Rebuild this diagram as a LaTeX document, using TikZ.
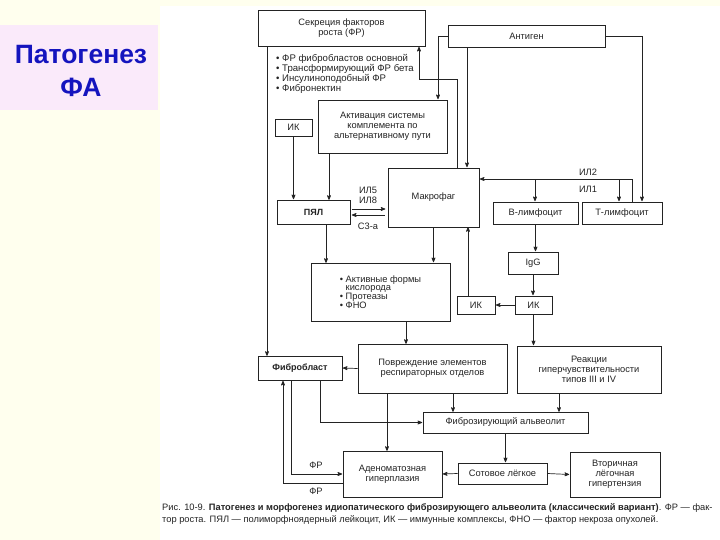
\documentclass[tikz,border=0pt]{standalone}
\usepackage{fontspec}
\setmainfont{Liberation Sans}
\setsansfont{Liberation Sans}
\usepackage{tikz}
\usetikzlibrary{arrows,positioning,shapes}
\usetikzlibrary{calc}
\definecolor{slidecream}{RGB}{255,255,238}
\definecolor{slidepink}{RGB}{250,234,250}
\definecolor{titleblue}{RGB}{20,20,190}
\definecolor{ink}{RGB}{35,35,35}

\begin{document}
\begin{tikzpicture}[x=1pt,y=-1pt,font=\sffamily,
  block/.style={draw=ink,line width=.65pt,inner sep=1pt,align=center,text=ink},
  boldblock/.style={block,font=\sffamily\bfseries\fontsize{9}{10}\selectfont},
  txt/.style={inner sep=0pt,align=center,text=ink},
  to/.style={->,>=stealth',shorten >=.5pt,draw=ink,line width=.7pt},
  every node/.style={font=\sffamily\fontsize{9.3}{10}\selectfont}]

    % slide background
    \useasboundingbox (0,0) rectangle (720,540);
    \fill[slidecream] (0,0) rectangle (720,540);
    \fill[white] (160,6) rectangle (720,540);
    \fill[slidepink] (0,25) rectangle (158,110);
    \node[txt,text=titleblue,font=\sffamily\bfseries\fontsize{26.5}{33}\selectfont] (title) at (81,71) {Патогенез\\ФА};

    % boxes
    \node[block,minimum width=167pt,minimum height=36pt] (secr) at (341.5,28) {Секреция факторов\\роста (ФР)};
    \node[block,minimum width=157pt,minimum height=22pt] (antigen) at (526.5,36) {Антиген};
    \node[txt,anchor=north west,align=left,font=\sffamily\fontsize{9.6}{9}\selectfont] (secrlist) at (276,54)
        {• ФР фибробластов основной\\• Трансформирующий ФР бета\\• Инсулиноподобный ФР\\• Фибронектин};
    \node[block,minimum width=129pt,minimum height=53pt] (activ) at (382.5,126.5) {Активация системы\\комплемента по\\альтернативному пути};
    \node[block,minimum width=37pt,minimum height=17pt] (ikA) at (293.5,127.5) {ИК};
    \node[boldblock,minimum width=73pt,minimum height=24pt] (pyal) at (313.5,212) {ПЯЛ};
    \node[block,minimum width=91pt,minimum height=59pt] (macro) at (433.5,197.5) {Макрофаг};
    \node[block,minimum width=85pt,minimum height=22pt] (blym) at (535.5,213) {В-лимфоцит};
    \node[block,minimum width=80pt,minimum height=22pt] (tlym) at (622,213) {Т-лимфоцит};
    \node[block,minimum width=50pt,minimum height=22pt] (igg) at (533,263) {IgG};
    \node[block,minimum width=37pt,minimum height=18pt] (ikR) at (533.5,305) {ИК};
    \node[block,minimum width=38pt,minimum height=18pt] (ikL) at (476,305) {ИК};
    \node[block,minimum width=139pt,minimum height=58pt,align=left,font=\sffamily\fontsize{9.3}{8.8}\selectfont] (agents) at (380.5,292)
        {• Активные формы\\\phantom{• }кислорода\\• Протеазы\\• ФНО};
    \node[block,minimum width=149pt,minimum height=49pt] (damage) at (432.5,368.5) {Повреждение элементов\\респираторных отделов};
    \node[block,minimum width=144pt,minimum height=47pt] (hyper) at (589,369.5) {Реакции\\гиперчувствительности\\типов III и IV};
    \node[boldblock,minimum width=84pt,minimum height=24pt] (fibro) at (300,368) {Фибробласт};
    \node[block,minimum width=165pt,minimum height=21pt] (alveo) at (505.5,422.5) {Фиброзирующий альвеолит};
    \node[block,minimum width=99pt,minimum height=46pt] (adeno) at (392.5,474) {Аденоматозная\\гиперплазия};
    \node[block,minimum width=89pt,minimum height=21pt] (honey) at (502.5,473.5) {Сотовое лёгкое};
    \node[block,minimum width=90pt,minimum height=45pt] (hypert) at (615,474.5) {Вторичная\\лёгочная\\гипертензия};

    % labels on connectors
    \node[txt] (il58) at (368,195) {ИЛ5\\ИЛ8};
    \node[txt] (c3a) at (368,226) {С3-а};
    \node[txt] (il2) at (588,172) {ИЛ2};
    \node[txt] (il1) at (588,189) {ИЛ1};
    \node[txt] (frA) at (316,465) {ФР};
    \node[txt] (frB) at (316,491) {ФР};
    \coordinate (il1b) at (535,180);
    \coordinate (il1t) at (619,180);

    % connectors
    \draw[to] ([xshift=23.5pt]macro.north) -- ++(0,-88) -| ([xshift=77.5pt]secr.south);
    \draw[to] (antigen.west) -| ([xshift=55.5pt]activ.north);
    \draw[to] ([xshift=-59.5pt]antigen.south) -- ([xshift=33.5pt]macro.north);
    \draw[to] (antigen.east) -| ([xshift=20pt]tlym.north);
    \draw[to] ([xshift=-74.5pt]secr.south) -- ++(0,310);
    \draw[to] (ikA.south) -- (ikA.south |- pyal.north);
    \draw[to] ([xshift=-53.5pt]activ.south) -- ++(0,47);
    \draw[to] ([yshift=3pt,xshift=1.5pt]pyal.east) -- ++(34,0);
    \draw[to,<-] ([yshift=-3pt,xshift=1.5pt]pyal.east) -- ++(34,0);
    \draw[to] ([xshift=10pt]tlym.north) |- ([yshift=18.5pt]macro.east);
    \draw[to] (il1b) -- (il1b |- blym.north);
    \draw[to] (il1t) -- (il1t |- tlym.north);
    \draw[to] (blym.south) -- (blym.south |- igg.north);
    \draw[to] (igg.south) -- (igg.south |- ikR.north);
    \draw[to] (ikR.west) -- (ikL.east);
    \draw[to] ([xshift=-8pt]ikL.north) -- ++(0,-69);
    \draw[to] (ikR.south) -- (ikR.south |- hyper.north);
    \draw[to] (macro.south) -- (macro.south |- agents.north);
    \draw[to] ([xshift=12.5pt]pyal.south) -- ++(0,39);
    \draw[to] ([xshift=25.5pt]agents.south) -- ++(0,23);
    \draw[to] (damage.west) -- (fibro.east);
    \draw[to] ([xshift=20.5pt]damage.south) -- ++(0,19);
    \draw[to] ([xshift=-30pt]hyper.south) -- ++(0,19);
    \draw[to] ([xshift=20pt]fibro.south) |- (alveo.west);
    \draw[to] ([xshift=-45.5pt]damage.south) -- ++(0,58);
    \draw[to] (alveo.south) -- (alveo.south |- honey.north);
    \draw[to] (honey.west) -- (adeno.east);
    \draw[to] (honey.east) -- (hypert.west);
    \draw[to] ([xshift=-9pt]fibro.south) |- (adeno.west);
    \draw[to] ([yshift=-9pt]adeno.west) -| ([xshift=-17pt]fibro.south);

    % caption
    \node[txt,anchor=north west,align=left,font=\sffamily\fontsize{9.3}{12}\selectfont] (caption) at (162,503)
        {Рис. 10-9. \textbf{Патогенез и морфогенез идиопатического фиброзирующего альвеолита (классический вариант)}. ФР — фак-\\
         тор роста. ПЯЛ — полиморфноядерный лейкоцит, ИК — иммунные комплексы, ФНО — фактор некроза опухолей.};
\end{tikzpicture}
\end{document}
